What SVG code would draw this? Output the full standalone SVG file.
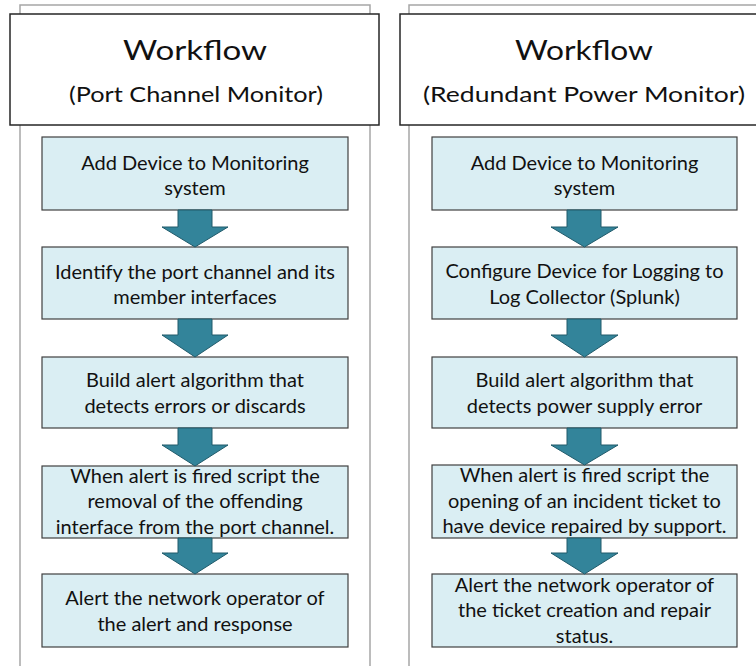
<svg xmlns="http://www.w3.org/2000/svg" width="756" height="666" viewBox="0 0 756 666">
  <style>
    .frame { fill: #ffffff; stroke: #a6a6a6; stroke-width: 1.5; }
    .head { fill: #ffffff; stroke: #262626; stroke-width: 1.5; }
    .step { fill: #daeef3; stroke: #404040; stroke-width: 1.2; }
    .arrow { fill: #33849a; stroke: #205a6a; stroke-width: 1; }
    text { font-family: Lato, "Open Sans", "Liberation Sans", sans-serif; fill: #111111; text-anchor: middle; }
    .title { font-size: 26px; }
    .sub { font-size: 21px; }
    .lbl { font-size: 20px; }
  </style>

  <!-- column frames -->
  <g id="frames">
    <rect class="frame" x="20" y="5" width="350" height="680"/>
    <rect class="frame" x="409" y="5" width="360" height="680"/>
  </g>

  <!-- left column: Port Channel Monitor -->
  <g id="header-left">
    <rect class="head" x="10" y="14" width="369" height="111"/>
    <text class="title" x="195" y="60" textLength="144" lengthAdjust="spacingAndGlyphs">Workflow</text>
    <text class="sub" x="196" y="102" textLength="254" lengthAdjust="spacingAndGlyphs">(Port Channel Monitor)</text>
  </g>
  <g id="pc-step1">
    <rect class="step" x="42" y="137" width="306" height="73"/>
    <text class="lbl" x="195" y="170">Add Device to Monitoring</text>
    <text class="lbl" x="195" y="195">system</text>
  </g>
  <g id="pc-step2">
    <rect class="step" x="42" y="247" width="306" height="72"/>
    <text class="lbl" x="195" y="279">Identify the port channel and its</text>
    <text class="lbl" x="195" y="304">member interfaces</text>
  </g>
  <g id="pc-step3">
    <rect class="step" x="42" y="357" width="306" height="71"/>
    <text class="lbl" x="195" y="387">Build alert algorithm that</text>
    <text class="lbl" x="195" y="413">detects errors or discards</text>
  </g>
  <g id="pc-step4">
    <rect class="step" x="42" y="466" width="306" height="72"/>
    <text class="lbl" x="195" y="483">When alert is fired script the</text>
    <text class="lbl" x="195" y="508">removal of the offending</text>
    <text class="lbl" x="195" y="534">interface from the port channel.</text>
  </g>
  <g id="pc-step5">
    <rect class="step" x="42" y="574" width="306" height="73"/>
    <text class="lbl" x="195" y="605">Alert the network operator of</text>
    <text class="lbl" x="195" y="631">the alert and response</text>
  </g>

  <!-- right column: Redundant Power Monitor -->
  <g id="header-right">
    <rect class="head" x="400" y="14" width="370" height="111"/>
    <text class="title" x="584" y="60" textLength="138" lengthAdjust="spacingAndGlyphs">Workflow</text>
    <text class="sub" x="584" y="102" textLength="322" lengthAdjust="spacingAndGlyphs">(Redundant Power Monitor)</text>
  </g>
  <g id="rp-step1">
    <rect class="step" x="432" y="137" width="305" height="73"/>
    <text class="lbl" x="584.5" y="170">Add Device to Monitoring</text>
    <text class="lbl" x="584.5" y="195">system</text>
  </g>
  <g id="rp-step2">
    <rect class="step" x="432" y="247" width="305" height="72"/>
    <text class="lbl" x="584.5" y="278">Configure Device for Logging to</text>
    <text class="lbl" x="584.5" y="304">Log Collector (Splunk)</text>
  </g>
  <g id="rp-step3">
    <rect class="step" x="432" y="357" width="305" height="71"/>
    <text class="lbl" x="584.5" y="387">Build alert algorithm that</text>
    <text class="lbl" x="584.5" y="413">detects power supply error</text>
  </g>
  <g id="rp-step4">
    <rect class="step" x="432" y="465" width="305" height="73"/>
    <text class="lbl" x="584.5" y="482">When alert is fired script the</text>
    <text class="lbl" x="584.5" y="508">opening of an incident ticket to</text>
    <text class="lbl" x="584.5" y="533">have device repaired by support.</text>
  </g>
  <g id="rp-step5">
    <rect class="step" x="432" y="574" width="305" height="73"/>
    <text class="lbl" x="584.5" y="592">Alert the network operator of</text>
    <text class="lbl" x="584.5" y="617">the ticket creation and repair</text>
    <text class="lbl" x="584.5" y="643">status.</text>
  </g>

  <!-- block arrows between steps -->
  <g id="connectors">
    <polygon class="arrow" points="178,210 212,210 212,227 228,227 195,247 162,227 178,227"/>
    <polygon class="arrow" points="178,319 212,319 212,335 228,335 195,357 162,335 178,335"/>
    <polygon class="arrow" points="178,428 212,428 212,445 228,445 195,466 162,445 178,445"/>
    <polygon class="arrow" points="178,538 212,538 212,553 228,553 195,574 162,553 178,553"/>
    <polygon class="arrow" points="567,210 601,210 601,227 618,227 584.5,247 551,227 567,227"/>
    <polygon class="arrow" points="567,319 601,319 601,335 618,335 584.5,357 551,335 567,335"/>
    <polygon class="arrow" points="567,428 601,428 601,445 618,445 584.5,465 551,445 567,445"/>
    <polygon class="arrow" points="567,538 601,538 601,553 618,553 584.5,574 551,553 567,553"/>
  </g>
</svg>
